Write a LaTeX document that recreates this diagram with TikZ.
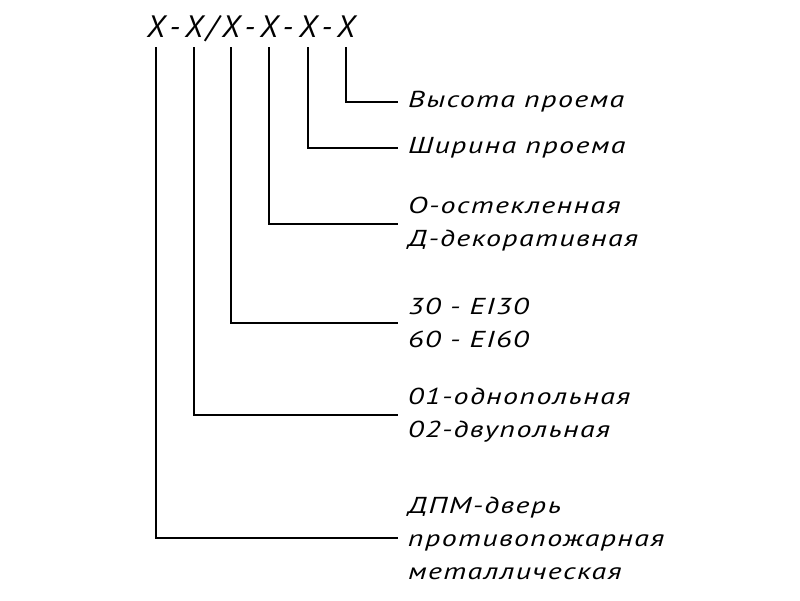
\documentclass[tikz,border=0pt]{standalone}
\usepackage{fontspec}
\setmainfont{PT Sans}[FakeStretch=1.3,LetterSpace=6]
\newfontfamily\codefont{PT Sans}
\usepackage{tikz}
\usetikzlibrary{positioning}
\tikzstyle{code} = [font={\codefont\fontsize{22}{26}\selectfont\itshape}, anchor=base,
        inner xsep=0pt, inner ysep=7pt]
\tikzstyle{legend} = [font={\fontsize{16.4}{23.5}\selectfont\itshape}, anchor=west,
        align=left, inner xsep=7pt, inner ysep=0pt]
\tikzstyle{leader} = [draw, line width=1.5pt]

\begin{document}
\begin{tikzpicture}[x=0.025cm, y=-0.025cm]
                \useasboundingbox (0,0) rectangle (800,600);
                \node [code] (x1) at (156,37) {X};
                \node [code] at (175,37) {-};
                \node [code] (x2) at (194,37) {X};
                \node [code] at (212,37) {/};
                \node [code] (x3) at (231,37) {X};
                \node [code] at (250,37) {-};
                \node [code] (x4) at (269,37) {X};
                \node [code] at (288,37) {-};
                \node [code] (x5) at (308,37) {X};
                \node [code] at (327,37) {-};
                \node [code] (x6) at (346,37) {X};

                \node [legend] (height) at (398,102) {Высота проема};
                \node [legend] (width) at (398,148) {Ширина проема};
                \node [legend] (glass) at (398,224) {О-остекленная\\Д-декоративная};
                \node [legend] (fire) at (398,323) {30 - EI30\\60 - EI60};
                \node [legend] (leaf) at (398,415) {01-однопольная\\02-двупольная};
                \node [legend] (door) at (398,538) {ДПМ-дверь\\противопожарная\\металлическая};

                \draw [leader] (x6) |- (height);
                \draw [leader] (x5) |- (width);
                \draw [leader] (x4) |- (glass);
                \draw [leader] (x3) |- (fire);
                \draw [leader] (x2) |- (leaf);
                \draw [leader] (x1) |- (door);
            \end{tikzpicture}
\end{document}
